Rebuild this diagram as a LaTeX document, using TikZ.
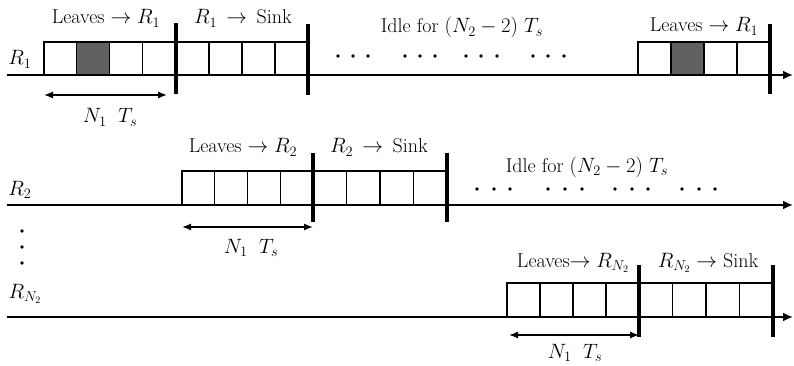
\documentclass[tikz,border=0pt]{standalone}
\usetikzlibrary{arrows.meta}
\begin{document}
\begin{tikzpicture}[x=1pt,y=-1pt,
  axis/.style={line width=2.4pt,-{Latex[length=10pt,width=9pt]}},
  bar/.style={line width=3.4pt},
  slot/.style={draw,line width=1.1pt},
  shaded/.style={slot,fill=black!62},
  dim/.style={line width=1.3pt,{Latex[length=9pt,width=7pt]}-{Latex[length=9pt,width=7pt]}},
  lbl/.style={anchor=base,inner sep=0pt,font=\fontsize{20}{22}\selectfont},
  dot/.style={circle,fill,inner sep=0pt,minimum size=3.6pt}]
\useasboundingbox (0,0) rectangle (794,366);

% ---------- Row 1 ----------
\coordinate (a1s) at (7,75);
\coordinate (a1e) at (793,75);
\draw[axis] (a1s) -- (a1e);
\foreach \i in {0,...,3}{
  \draw[slot] ({44+\i*32.9},42) rectangle ({44+(\i+1)*32.9},75);
  \draw[slot] ({176+\i*33},42) rectangle ({176+(\i+1)*33},75);
  \draw[slot] ({638+\i*33},42) rectangle ({638+(\i+1)*33},75);
}
\draw[shaded] (76.9,42) rectangle (109.8,75);
\draw[shaded] (671,42) rectangle (704,75);
\coordinate (b1t) at (176,23); \coordinate (b1b) at (176,94);
\coordinate (b2t) at (308,24); \coordinate (b2b) at (308,95);
\coordinate (b3t) at (770,24); \coordinate (b3b) at (770,94);
\draw[bar] (b1t) -- (b1b);
\draw[bar] (b2t) -- (b2b);
\draw[bar] (b3t) -- (b3b);
\coordinate (d1s) at (44,95); \coordinate (d1e) at (167,95);
\draw[dim] (d1s) -- (d1e);
\node[lbl] (r1) at (20,65) {$R_1$};
\node[lbl] (l1) at (106,24) {Leaves $\rightarrow R_1$};
\node[lbl] (s1) at (243,24) {$R_1 \,\rightarrow\,$ Sink};
\node[lbl] (i1) at (462,33) {Idle for $(N_2 - 2)\ T_s$};
\node[lbl] (l1b) at (704,32) {Leaves $\rightarrow R_1$};
\node[lbl] (n1) at (110,123) {$N_1\;\;T_s$};
\foreach \x in {338,353,368, 405,420,435, 466,481,497, 533,548,564}
  \node[dot] at (\x,56) {};

% ---------- Row 2 ----------
\coordinate (a2s) at (7,205);
\coordinate (a2e) at (793,205);
\draw[axis] (a2s) -- (a2e);
\foreach \i in {0,...,3}{
  \draw[slot] ({182+\i*32.75},171) rectangle ({182+(\i+1)*32.75},205);
  \draw[slot] ({313+\i*33.5},171) rectangle ({313+(\i+1)*33.5},205);
}
\coordinate (c1t) at (313,153); \coordinate (c1b) at (313,222);
\coordinate (c2t) at (447,153); \coordinate (c2b) at (447,222);
\draw[bar] (c1t) -- (c1b);
\draw[bar] (c2t) -- (c2b);
\coordinate (d2s) at (182,227); \coordinate (d2e) at (313,227);
\draw[dim] (d2s) -- (d2e);
\node[lbl] (r2) at (20,195) {$R_2$};
\node[lbl] (l2) at (243,153) {Leaves $\rightarrow R_2$};
\node[lbl] (s2) at (379,153) {$R_2 \,\rightarrow\,$ Sink};
\node[lbl] (i2) at (587,172) {Idle for $(N_2 - 2)\ T_s$};
\node[lbl] (n2) at (251,253) {$N_1\;\;T_s$};
\foreach \x in {477,494,510, 548,565,582, 615,632,648, 682,699,715}
  \node[dot] at (\x,189) {};

% vertical dots
\foreach \y in {231,247,263}
  \node[dot] at (22,\y) {};

% ---------- Row 3 ----------
\coordinate (a3s) at (7,317);
\coordinate (a3e) at (793,317);
\draw[axis] (a3s) -- (a3e);
\foreach \i in {0,...,3}{
  \draw[slot] ({507+\i*33},283) rectangle ({507+(\i+1)*33},317);
  \draw[slot] ({639+\i*33.5},283) rectangle ({639+(\i+1)*33.5},317);
}
\coordinate (e1t) at (639,265); \coordinate (e1b) at (639,337);
\coordinate (e2t) at (773,265); \coordinate (e2b) at (773,337);
\draw[bar] (e1t) -- (e1b);
\draw[bar] (e2t) -- (e2b);
\coordinate (d3s) at (509,335); \coordinate (d3e) at (639,335);
\draw[dim] (d3s) -- (d3e);
\node[lbl] (r3) at (25,298) {$R_{N_2}$};
\node[lbl] (l3) at (573,267) {Leaves$\rightarrow R_{N_2}$};
\node[lbl] (s3) at (708,267) {$R_{N_2} \rightarrow$ Sink};
\node[lbl] (n3) at (575,358) {$N_1\;\;T_s$};
\end{tikzpicture}
\end{document}
